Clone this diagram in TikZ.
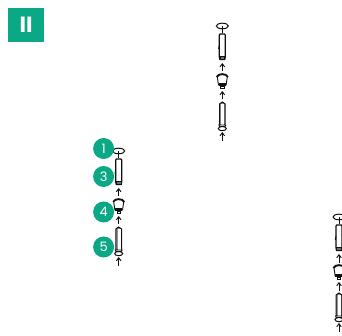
\documentclass[tikz,border=0pt]{standalone}
\usepackage{fontspec}
\setmainfont{Poppins}
\usetikzlibrary{arrows.meta}
\definecolor{brandgreen}{HTML}{0AA884}
\definecolor{partink}{HTML}{101010}
\tikzset{
  x=1pt,y=-1pt,
  badge/.style={circle,fill=brandgreen,text=white,minimum size=21pt,inner sep=0pt,font=\fontsize{13}{13}\selectfont\mdseries},
  title box/.style={rectangle,fill=brandgreen,text=white,minimum width=36pt,minimum height=34pt,inner sep=0pt,font=\fontsize{22}{22}\selectfont\bfseries},
  part/.style={draw=partink,line width=1pt,fill=white},
  feed/.style={draw=partink,line width=0.95pt,-{Straight Barb[length=3pt,width=4.6pt,line width=0.95pt]}},
  pics/assembly/.style={code={
    % top cap: oval and pin
    \draw[part] (0,0) -- (0,7);
    \draw[part,fill=none] (0,0) ellipse [x radius=6pt,y radius=2.8pt];
    % upper tube
    \draw[part,line width=1.2pt] (-3,9) -- (-3,31) -- (-2.4,33.5) -- (2.4,33.5) -- (3,31) -- (3,9) -- (2.2,8) -- (-2.2,8) -- cycle;
    \draw[partink,fill=partink!60,line width=0.7pt] (-2.2,30.4) rectangle (2.2,33.5);
    \draw[partink,line width=0.9pt] (-3.7,23) -- (-3,19);
    % arrow 1
    \coordinate (-a1) at (0,45.5);
    \coordinate (-b1) at (0,37);
    \draw[feed] (-a1) -- (-b1);
    % cup
    \draw[part,line width=0.9pt] (-5,51) -- (-3.8,59) -- (3.8,59) -- (5,51);
    \draw[partink,line width=1.9pt,fill=none] (-5.6,51) .. controls (-4,47.2) and (4,47.2) .. (5.6,51);
    \fill[partink] (-3.6,57.2) rectangle (3.6,60.4);
    \draw[part,line width=0.7pt] (-1.6,60.4) rectangle (1.6,62.4);
    % arrow 2
    \coordinate (-a2) at (0,73.5);
    \coordinate (-b2) at (0,65);
    \draw[feed] (-a2) -- (-b2);
    % lower tube
    \draw[part,fill=partink!45] (-2.8,78) -- (0,76) -- (2.8,78) -- (2.8,99) -- (-2.8,99) -- cycle;
    \fill[white] (-1,78) rectangle (1.8,98.6);
    \draw[part,line width=0.9pt] (-3.4,99) -- (3.4,99) -- (2.8,100.5) -- (-2.8,100.5) -- cycle;
    \draw[part,fill=white] (0,102.6) ellipse [x radius=4pt,y radius=2.1pt];
    % arrow 3
    \coordinate (-a3) at (0,115);
    \coordinate (-b3) at (0,106);
    \draw[feed] (-a3) -- (-b3);
  }}
}
\begin{document}
\begin{tikzpicture}
\useasboundingbox (0,0) rectangle (342,336);
\clip (0,0) rectangle (342,336);
\node[title box] (title) at (26,25) {II};
\pic (left) at (118.7,151) {assembly};
\pic (top) at (222.3,26) {assembly};
\pic (right) at (339,217) {assembly};
\node[badge] (n1) at (103.6,148.5) {1};
\node[badge] (n3) at (103.6,176.5) {3};
\node[badge] (n4) at (103.6,212) {4};
\node[badge] (n5) at (103.6,247) {5};
\end{tikzpicture}
\end{document}
